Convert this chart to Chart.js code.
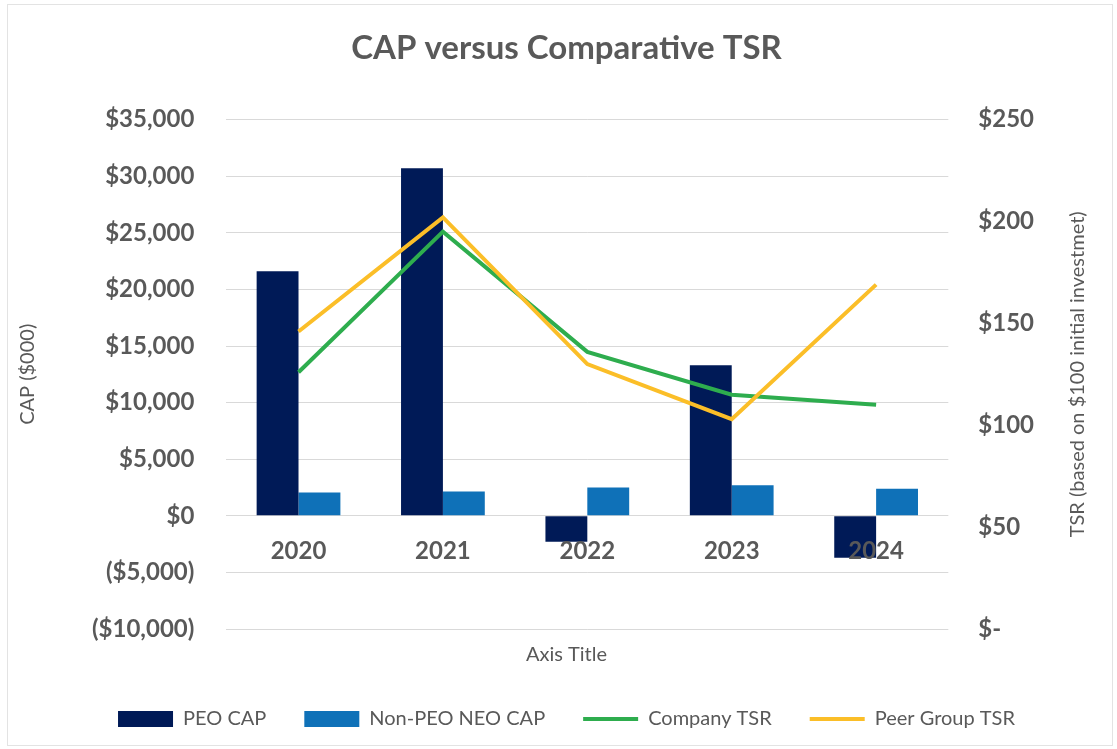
<!DOCTYPE html>
<html>
<head>
<meta charset="utf-8">
<script src="https://cdn.jsdelivr.net/npm/chart.js@4.4.1/dist/chart.umd.min.js"></script>
<style>
  html, body { margin: 0; padding: 0; background: #fff; }
  #wrap { width: 1117px; height: 749px; position: relative; }
</style>
</head>
<body>
<div id="wrap"><canvas id="capChart"></canvas></div>
<script>
// values
const years = ['2020', '2021', '2022', '2023', '2024'];
const peoCap = [21600, 30700, -2300, 13300, -3700];
const nonPeoCap = [2050, 2150, 2500, 2700, 2400];
const companyTsr = [126, 195, 136, 115, 110];
const peerTsr = [146, 202, 130, 103, 169];

const chartTitle = 'CAP versus Comparative TSR';
const leftTitle = 'CAP ($000)';
const rightTitle = 'TSR (based on $100 initial investmet)';
const bottomTitle = 'Axis Title';

const colors = {
  navy: '#001A57',
  blue: '#0F71B8',
  green: '#2EAD4E',
  gold: '#FBBE28',
  text: '#595959',
  grid: '#D9D9D9'
};

Chart.defaults.font.family = 'Lato';
Chart.defaults.color = colors.text;

// right axis title reads bottom-to-top like the left one, so draw it by hand
// (the scale's own title is kept but transparent, only to reserve the room)
const rightTitlePlugin = {
  id: 'rightTitle',
  afterDraw(chart) {
    const ctx = chart.ctx;
    const a = chart.chartArea;
    ctx.save();
    ctx.translate(chart.width - 39, (a.top + a.bottom) / 2);
    ctx.rotate(-Math.PI / 2);
    ctx.font = '20px Lato';
    ctx.fillStyle = colors.text;
    ctx.textAlign = 'center';
    ctx.textBaseline = 'middle';
    ctx.fillText(rightTitle, 0, 0);
    ctx.restore();
  }
};

const framePlugin = {
  id: 'frame',
  beforeDraw(chart) {
    const ctx = chart.ctx;
    ctx.save();
    ctx.strokeStyle = '#E3E3E3';
    ctx.lineWidth = 1;
    ctx.strokeRect(7.5, 4.5, chart.width - 12, chart.height - 8);
    ctx.restore();
  }
};

const fmtCap = v => {
  const s = '$' + Math.abs(v).toLocaleString('en-US');
  return v < 0 ? '(' + s + ')' : s;
};

new Chart(document.getElementById('capChart'), {
  data: {
    labels: years,
    datasets: [
      { type: 'bar', label: 'PEO CAP', data: peoCap, backgroundColor: colors.navy, yAxisID: 'y', order: 2, pointStyle: 'rect' },
      { type: 'bar', label: 'Non-PEO NEO CAP', data: nonPeoCap, backgroundColor: colors.blue, yAxisID: 'y', order: 2, pointStyle: 'rect' },
      { type: 'line', label: 'Company TSR', data: companyTsr, borderColor: colors.green, backgroundColor: colors.green, borderWidth: 4, pointRadius: 0, tension: 0, yAxisID: 'y2', order: 1, pointStyle: 'line' },
      { type: 'line', label: 'Peer Group TSR', data: peerTsr, borderColor: colors.gold, backgroundColor: colors.gold, borderWidth: 4, pointRadius: 0, tension: 0, yAxisID: 'y2', order: 0, pointStyle: 'line' }
    ]
  },
  options: {
    responsive: true,
    maintainAspectRatio: false,
    animation: false,
    datasets: { bar: { categoryPercentage: 0.58, barPercentage: 1.0 } },
    layout: { padding: { left: 16, right: 0, top: 0, bottom: 10 } },
    plugins: {
      title: {
        display: true, text: chartTitle, color: colors.text,
        font: { size: 33, weight: 'bold' },
        padding: { top: 29, bottom: 51 }
      },
      subtitle: {
        display: true, text: bottomTitle, position: 'bottom', color: colors.text,
        font: { size: 20 }, padding: { top: 14, bottom: 4 }
      },
      legend: {
        position: 'bottom', weight: 3000,
        labels: {
          usePointStyle: true, pointStyleWidth: 55, boxHeight: 16,
          font: { size: 20 }, color: colors.text, padding: 38,
          sort: (a, b) => a.datasetIndex - b.datasetIndex
        }
      },
      tooltip: { enabled: false }
    },
    scales: {
      x: {
        position: { y: 0 },
        grid: { display: false },
        border: { display: false },
        // year labels sit over the negative bars, as in the original
        ticks: { z: 1, font: { size: 24, weight: 'bold' }, color: colors.text, padding: 13 }
      },
      y: {
        position: 'left',
        min: -10000, max: 35000,
        ticks: { stepSize: 5000, callback: fmtCap, font: { size: 24, weight: 'bold' }, color: colors.text, padding: 32 },
        grid: { color: colors.grid, drawTicks: false },
        border: { display: false },
        title: { display: true, text: leftTitle, color: colors.text, font: { size: 20 }, padding: { top: 0, bottom: 20 } }
      },
      y2: {
        position: 'right',
        min: 0, max: 250,
        ticks: { stepSize: 50, callback: v => v === 0 ? '$-' : '$' + v, font: { size: 24, weight: 'bold' }, color: colors.text, padding: 30 },
        grid: { display: false, drawTicks: false },
        border: { display: false },
        title: { display: true, text: rightTitle, color: 'rgba(0,0,0,0)', font: { size: 20 }, padding: { top: 0, bottom: 29 } }
      }
    }
  },
  plugins: [rightTitlePlugin, framePlugin]
});
</script>
</body>
</html>
